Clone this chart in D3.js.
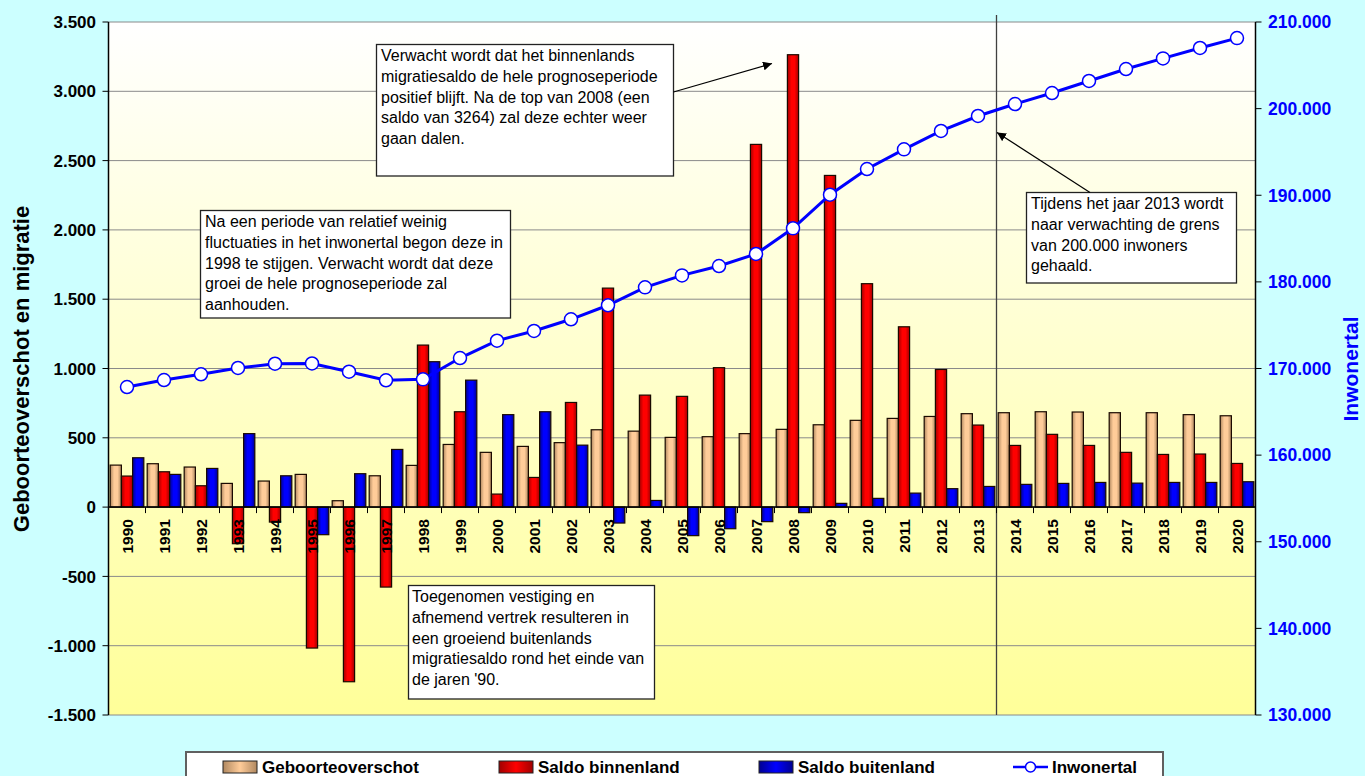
<!DOCTYPE html>
<html><head><meta charset="utf-8">
<script src="https://cdn.jsdelivr.net/npm/d3@7"></script>
<style>
body{margin:0;background:#CCFFFF;}
svg{display:block;font-family:Arial,"Liberation Sans",sans-serif;}
</style>
</head><body>
<svg id="chart" width="1365" height="776"></svg>
<script>
// ---------------- DATA ----------------
const years = [1990,1991,1992,1993,1994,1995,1996,1997,1998,1999,2000,2001,2002,2003,2004,2005,2006,2007,2008,2009,2010,2011,2012,2013,2014,2015,2016,2017,2018,2019,2020];
const geboorteoverschot = [303,313,289,171,188,236,46,226,301,452,395,438,465,558,548,503,508,530,561,594,626,640,654,674,681,688,686,681,681,667,659];
const saldoBinnenland = [224,255,154,-264,-108,-1017,-1260,-577,1169,688,94,214,755,1580,808,799,1006,2617,3264,2393,1612,1301,993,592,445,525,445,395,380,383,315];
const saldoBuitenland = [356,236,279,530,226,-199,241,416,1049,916,667,688,447,-115,48,-206,-156,-105,-40,27,63,101,133,149,164,171,178,173,178,178,183];
const inwonertal = [167860,168670,169330,170060,170550,170580,169630,168640,168750,171210,173210,174330,175680,177300,179370,180750,181830,183220,186180,190060,193030,195300,197420,199150,200530,201800,203190,204570,205800,207000,208140];
const leftTicks = [-1500,-1000,-500,0,500,1000,1500,2000,2500,3000,3500];
const rightTicks = [130000,140000,150000,160000,170000,180000,190000,200000,210000];
const seriesNames = ["Geboorteoverschot","Saldo binnenland","Saldo buitenland"];
const lineName = "Inwonertal";
const leftTitle = "Geboorteoverschot en migratie";
const rightTitle = "Inwonertal";
const splitYear = 2014;
const note1 = ["Verwacht wordt dat het binnenlands","migratiesaldo de hele prognoseperiode","positief blijft. Na de top van 2008 (een","saldo van 3264) zal deze echter weer","gaan dalen."];
const note2 = ["Na een periode van relatief weinig","fluctuaties in het inwonertal begon deze in","1998 te stijgen. Verwacht wordt dat deze","groei de hele prognoseperiode zal","aanhouden."];
const note3 = ["Toegenomen vestiging en","afnemend vertrek resulteren in","een groeiend buitenlands","migratiesaldo rond het einde van","de jaren '90."];
const note4 = ["Tijdens het jaar 2013 wordt","naar verwachting de grens","van 200.000 inwoners","gehaald."];

// ---------------- SETUP ----------------
const svg = d3.select("#chart");
const P = {left:108.5, right:1255.5, top:22, bottom:715};
const nl = d3.formatLocale({decimal:",", thousands:".", grouping:[3], currency:["€",""], minus:"-"});
const fmt = nl.format(",");

const x = d3.scaleBand().domain(years).range([P.left, P.right]).padding(0);
const bw = x.bandwidth();
const xs = d3.scaleBand().domain([0,1,2]).range([0,bw]).paddingInner(0).paddingOuter(0.15);
const yL = d3.scaleLinear().domain([-1500,3500]).range([P.bottom,P.top]);
const yR = d3.scaleLinear().domain([130000,210000]).range([P.bottom,P.top]);

const defs = svg.append("defs");
const bg = defs.append("linearGradient").attr("id","plotbg").attr("x1",0).attr("y1",0).attr("x2",0).attr("y2",1);
bg.append("stop").attr("offset","0%").attr("stop-color","#FFFFFF");
bg.append("stop").attr("offset","100%").attr("stop-color","#FFFF99");

const barColors = [
  {edge:"#B08860", mid:"#FFCC99"},
  {edge:"#A00000", mid:"#FF0000"},
  {edge:"#000090", mid:"#0000FF"}
];
barColors.forEach((c,i)=>{
  const g = defs.append("linearGradient").attr("id","bar"+i).attr("x1",0).attr("y1",0).attr("x2",1).attr("y2",0);
  g.append("stop").attr("offset","0%").attr("stop-color",c.edge);
  g.append("stop").attr("offset","35%").attr("stop-color",c.mid);
  g.append("stop").attr("offset","65%").attr("stop-color",c.mid);
  g.append("stop").attr("offset","100%").attr("stop-color",c.edge);
  const gl = defs.append("linearGradient").attr("id","leg"+i).attr("x1",0).attr("y1",0).attr("x2",1).attr("y2",0);
  gl.append("stop").attr("offset","0%").attr("stop-color",c.edge);
  gl.append("stop").attr("offset","50%").attr("stop-color",c.mid);
  gl.append("stop").attr("offset","100%").attr("stop-color",c.edge);
});
defs.append("marker").attr("id","arrow").attr("viewBox","0 0 10 10").attr("refX",10).attr("refY",5)
  .attr("markerWidth",9).attr("markerHeight",9).attr("markerUnits","userSpaceOnUse").attr("orient","auto")
  .append("path").attr("d","M0,0 L10,5 L0,10 z").attr("fill","#000");

// background
svg.append("rect").attr("width",1365).attr("height",776).attr("fill","#CCFFFF");
svg.append("rect").attr("x",P.left).attr("y",P.top).attr("width",P.right-P.left).attr("height",P.bottom-P.top).attr("fill","url(#plotbg)");

// gridlines
svg.append("g").selectAll("line").data(leftTicks).join("line")
  .attr("x1",P.left).attr("x2",P.right).attr("y1",d=>yL(d)).attr("y2",d=>yL(d))
  .attr("stroke","#8a8a8a").attr("stroke-width",1);

// vertical split line
svg.append("line").attr("x1",x(splitYear)).attr("x2",x(splitYear)).attr("y1",15).attr("y2",P.bottom)
  .attr("stroke","#404040").attr("stroke-width",1.3);

// bars
const seriesData = [geboorteoverschot, saldoBinnenland, saldoBuitenland];
seriesData.forEach((arr,s)=>{
  svg.append("g").selectAll("rect").data(arr).join("rect")
    .attr("x",(d,i)=>x(years[i])+xs(s))
    .attr("y",d=>yL(Math.max(0,d)))
    .attr("width",xs.bandwidth())
    .attr("height",d=>Math.abs(yL(d)-yL(0)))
    .attr("fill","url(#bar"+s+")")
    .attr("stroke","#1a0a00").attr("stroke-width",1.2);
});

// category axis
const y0 = yL(0);
svg.append("line").attr("x1",P.left).attr("x2",P.right).attr("y1",y0).attr("y2",y0).attr("stroke","#000").attr("stroke-width",1.5);
svg.append("g").selectAll("line").data(d3.range(years.length+1)).join("line")
  .attr("x1",i=>P.left+i*bw).attr("x2",i=>P.left+i*bw).attr("y1",y0).attr("y2",y0+6)
  .attr("stroke","#000").attr("stroke-width",1);
svg.append("g").selectAll("text").data(years).join("text")
  .attr("transform",d=>`translate(${x(d)+bw/2+5.5},${y0+12}) rotate(-90)`)
  .attr("text-anchor","end").attr("font-size","15.5px").attr("font-weight","bold").attr("fill","#000")
  .text(d=>d);

// left axis
svg.append("line").attr("x1",P.left).attr("x2",P.left).attr("y1",P.top).attr("y2",P.bottom).attr("stroke","#000").attr("stroke-width",1.5);
svg.append("g").selectAll("line").data(leftTicks).join("line")
  .attr("x1",P.left-6).attr("x2",P.left).attr("y1",d=>yL(d)).attr("y2",d=>yL(d)).attr("stroke","#000");
svg.append("g").selectAll("text").data(leftTicks).join("text")
  .attr("x",96).attr("y",d=>yL(d)).attr("dy","0.36em").attr("text-anchor","end")
  .attr("font-size","17px").attr("font-weight","bold").attr("fill","#000").text(d=>fmt(d));

// right axis
svg.append("line").attr("x1",P.right).attr("x2",P.right).attr("y1",P.top).attr("y2",P.bottom).attr("stroke","#000").attr("stroke-width",1.5);
svg.append("g").selectAll("line").data(rightTicks).join("line")
  .attr("x1",P.right).attr("x2",P.right+6).attr("y1",d=>yR(d)).attr("y2",d=>yR(d)).attr("stroke","#000");
svg.append("g").selectAll("text").data(rightTicks).join("text")
  .attr("x",1268).attr("y",d=>yR(d)).attr("dy","0.36em").attr("text-anchor","start")
  .attr("font-size","17.5px").attr("font-weight","bold").attr("fill","#0000FF").text(d=>fmt(d));

// axis titles
svg.append("text").attr("transform","translate(29,369) rotate(-90)").attr("text-anchor","middle")
  .attr("font-size","22px").attr("font-weight","bold").attr("fill","#000").text(leftTitle);
svg.append("text").attr("transform","translate(1358,369) rotate(-90)").attr("text-anchor","middle")
  .attr("font-size","21px").attr("font-weight","bold").attr("fill","#0000FF").text(rightTitle);

// line
const line = d3.line().x((d,i)=>x(years[i])+bw/2).y(d=>yR(d));
svg.append("path").datum(inwonertal).attr("d",line).attr("fill","none").attr("stroke","#0000FF").attr("stroke-width",3);
svg.append("g").selectAll("circle").data(inwonertal).join("circle")
  .attr("cx",(d,i)=>x(years[i])+bw/2).attr("cy",d=>yR(d)).attr("r",6.5)
  .attr("fill","#fff").attr("stroke","#0000FF").attr("stroke-width",1.5);

// annotations
function note(lines, bx, by, w, h, tx, ty0){
  svg.append("rect").attr("x",bx).attr("y",by).attr("width",w).attr("height",h)
    .attr("fill","#fff").attr("stroke","#222").attr("stroke-width",1.3);
  svg.append("g").selectAll("text").data(lines).join("text")
    .attr("x",tx).attr("y",(d,i)=>ty0+i*20.8).attr("font-size","16px").attr("fill","#000").text(d=>d);
}
note(note1, 376.5, 44.5, 297, 131.5, 381, 61);
note(note2, 200.5, 210.5, 310, 107.5, 205, 227);
note(note3, 408.5, 585.5, 246, 113.5, 412, 602);
note(note4, 1026.5, 192.5, 210, 90.5, 1031, 209);
svg.append("line").attr("x1",673.5).attr("y1",92).attr("x2",772).attr("y2",63.5)
  .attr("stroke","#000").attr("stroke-width",1.2).attr("marker-end","url(#arrow)");
svg.append("line").attr("x1",1090).attr("y1",192.5).attr("x2",997).attr("y2",132.5)
  .attr("stroke","#000").attr("stroke-width",1.2).attr("marker-end","url(#arrow)");

// legend
const lg = svg.append("g");
lg.append("rect").attr("x",186).attr("y",752).attr("width",977).attr("height",40)
  .attr("fill","#fff").attr("stroke","#606060").attr("stroke-width",2);
const legX = [223, 499, 759];
seriesNames.forEach((n,i)=>{
  lg.append("rect").attr("x",legX[i]).attr("y",761).attr("width",34).attr("height",12)
    .attr("fill","url(#leg"+i+")").attr("stroke","#222").attr("stroke-width",1);
  lg.append("text").attr("x",legX[i]+39).attr("y",773).attr("font-size","17px").attr("font-weight","bold").attr("fill","#000").text(n);
});
lg.append("line").attr("x1",1013).attr("x2",1048).attr("y1",767).attr("y2",767).attr("stroke","#0000FF").attr("stroke-width",2.5);
lg.append("circle").attr("cx",1030.5).attr("cy",767).attr("r",5).attr("fill","#fff").attr("stroke","#0000FF").attr("stroke-width",1.5);
lg.append("text").attr("x",1052).attr("y",773).attr("font-size","17px").attr("font-weight","bold").attr("fill","#000").text(lineName);
</script>
</body></html>
